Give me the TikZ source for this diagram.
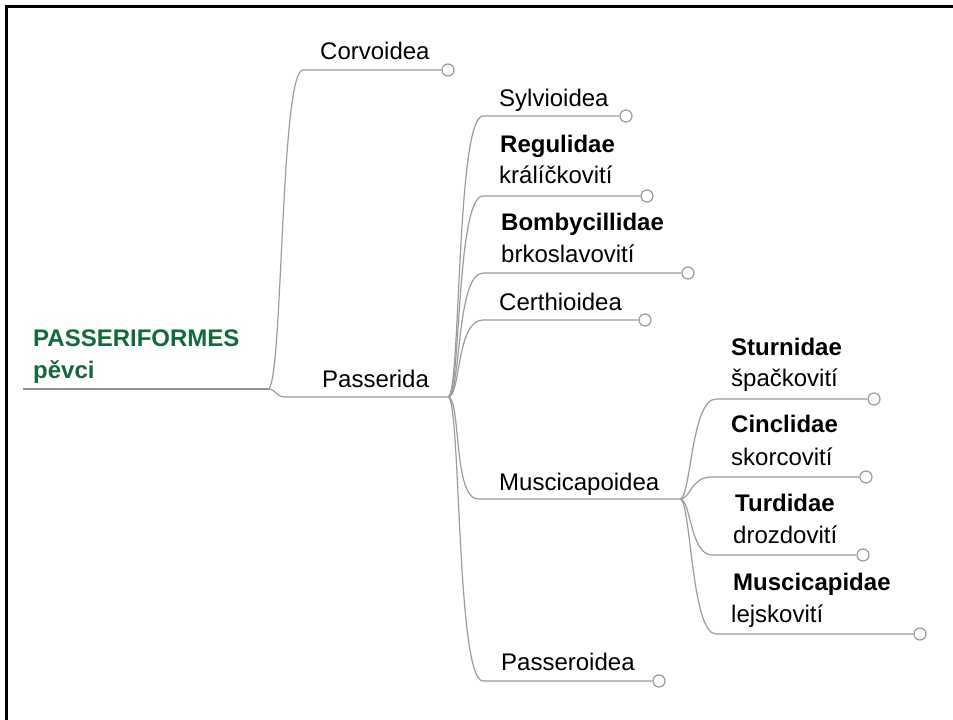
\documentclass[tikz,border=0pt]{standalone}
\usepackage{fontspec}
\setmainfont{Liberation Sans}
\definecolor{linegray}{HTML}{9C9C9C}
\definecolor{rootgreen}{HTML}{13693A}
\begin{document}
\begin{tikzpicture}[x=1pt,y=-1pt,
  lbl/.style={anchor=base west,inner sep=0pt,font=\fontsize{24}{28}\selectfont,text=black},
  blbl/.style={lbl,font=\fontsize{24}{28}\selectfont\bfseries},
  rootlbl/.style={blbl,text=rootgreen},
  conn/.style={draw=linegray,line width=1.2pt},
  endcirc/.style={circle,draw=linegray,fill=white,line width=1.2pt,minimum size=12pt,inner sep=0pt}]
\useasboundingbox (0,0) rectangle (953,720);
\fill[white] (0,0) rectangle (953,720);
\draw[line width=2.6pt,miter limit=10] (6.2,720) -- (6.2,6.2) -- (953,6.2);

% coordinates
\coordinate (rootL) at (23,389);
\coordinate (rootR) at (268,389);
\coordinate (corvS) at (303,70);
\coordinate (passS) at (285,397);
\coordinate (passJ) at (448,397);
\coordinate (sylvS) at (483,116);
\coordinate (reguS) at (483,196);
\coordinate (bombS) at (483,273);
\coordinate (certS) at (483,320);
\coordinate (muscS) at (478,499);
\coordinate (muscJ) at (680,499);
\coordinate (pasrS) at (483,681);
\coordinate (stuS) at (716,399);
\coordinate (cinS) at (712,477);
\coordinate (turS) at (712,555);
\coordinate (mucS) at (716,634);

% end circles
\node[endcirc] (corvC) at (448,70) {};
\node[endcirc] (sylvC) at (626,116) {};
\node[endcirc] (reguC) at (647,196) {};
\node[endcirc] (bombC) at (688,273) {};
\node[endcirc] (certC) at (645,320) {};
\node[endcirc] (pasrC) at (659,681) {};
\node[endcirc] (stuC) at (874,399) {};
\node[endcirc] (cinC) at (866,477) {};
\node[endcirc] (turC) at (863,555) {};
\node[endcirc] (mucC) at (920,634) {};

% connectors
\draw[conn,draw=gray!85] (rootL) -- (rootR);
\draw[conn] (rootR) .. controls +(15,0) and +(-23,0) .. (corvS) -- (corvC);
\draw[conn] (rootR) .. controls +(8,0) and +(-9,0) .. (passS) -- (passJ);
\draw[conn] (passJ) .. controls +(13,0) and +(-27,0) .. (sylvS) -- (sylvC);
\draw[conn] (passJ) .. controls +(13,0) and +(-27,0) .. (reguS) -- (reguC);
\draw[conn] (passJ) .. controls +(13,0) and +(-27,0) .. (bombS) -- (bombC);
\draw[conn] (passJ) .. controls +(13,0) and +(-27,0) .. (certS) -- (certC);
\draw[conn] (passJ) .. controls +(13,0) and +(-25,0) .. (muscS) -- (muscJ);
\draw[conn] (passJ) .. controls +(13,0) and +(-27,0) .. (pasrS) -- (pasrC);
\draw[conn] (muscJ) .. controls +(11,0) and +(-25,0) .. (stuS) -- (stuC);
\draw[conn] (muscJ) .. controls +(11,0) and +(-22,0) .. (cinS) -- (cinC);
\draw[conn] (muscJ) .. controls +(11,0) and +(-22,0) .. (turS) -- (turC);
\draw[conn] (muscJ) .. controls +(11,0) and +(-25,0) .. (mucS) -- (mucC);

% labels
\node[rootlbl] (root) at (33,346) {PASSERIFORMES};
\node[rootlbl] (rootcz) at (33,378) {pěvci};
\node[lbl] (corv) at (320,59) {Corvoidea};
\node[lbl] (pass) at (322,387) {Passerida};
\node[lbl] (sylv) at (499,106) {Sylvioidea};
\node[blbl] (regu) at (500,152) {Regulidae};
\node[lbl] (regucz) at (499,183) {králíčkovití};
\node[blbl] (bomb) at (501,230) {Bombycillidae};
\node[lbl] (bombcz) at (501,262) {brkoslavovití};
\node[lbl] (cert) at (499,310) {Certhioidea};
\node[lbl] (musc) at (499,490) {Muscicapoidea};
\node[lbl] (pasr) at (501,670) {Passeroidea};
\node[blbl] (stu) at (731,355) {Sturnidae};
\node[lbl] (stucz) at (731,386) {špačkovití};
\node[blbl] (cin) at (731,432) {Cinclidae};
\node[lbl] (cincz) at (731,465) {skorcovití};
\node[blbl] (tur) at (735,511) {Turdidae};
\node[lbl] (turcz) at (733,543) {drozdovití};
\node[blbl] (muc) at (733,590) {Muscicapidae};
\node[lbl] (muccz) at (731,622) {lejskovití};
\end{tikzpicture}
\end{document}
